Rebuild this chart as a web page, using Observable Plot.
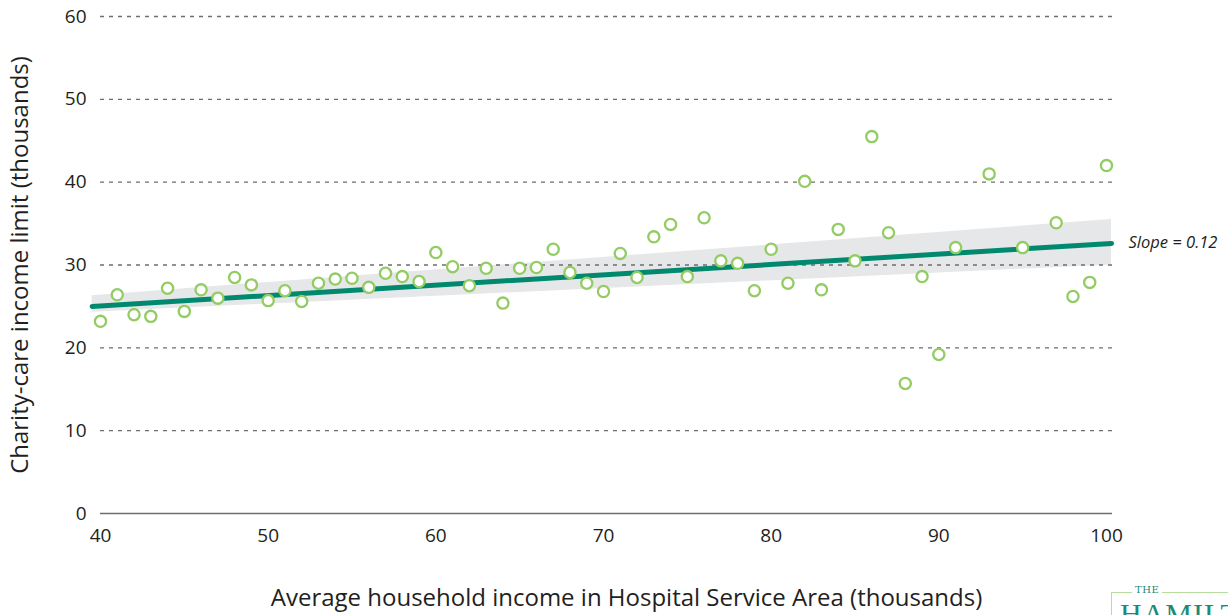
<!DOCTYPE html>
<html>
<head>
<meta charset="utf-8">
<script src="https://cdn.jsdelivr.net/npm/d3@7"></script>
<script src="https://cdn.jsdelivr.net/npm/@observablehq/plot@0.6"></script>
<style>
  html, body { margin: 0; padding: 0; background: #fff; overflow: hidden; width: 1228px; height: 615px; }
  #wrap { position: relative; width: 1228px; height: 615px; overflow: hidden; }
  #logo { position: absolute; left: 1111px; top: 592px; width: 200px; height: 60px;
          border-left: 1.5px solid #b9dc9e; border-top: 1.5px solid #b9dc9e; }
  #logo .the { position: absolute; left: 20px; top: -9px; background: #fff; padding: 0 3px;
          font-family: "DejaVu Serif", serif; font-size: 10px; color: #1a8a7a; letter-spacing: 0.5px; }
  #logo .ham { position: absolute; left: 8px; top: 4px; font-family: "Liberation Serif", serif;
          font-size: 30px; color: #1a8a7a; letter-spacing: 1px; }
</style>
</head>
<body>
<div id="wrap">
  <div id="chart"></div>
  <div id="logo"><span class="the">THE</span><span class="ham">HAMILTON</span></div>
</div>
<script>
// Average household income in HSA (thousands)
const income = [40,41,42,43,44,45,46,47,48,49,50,51,52,53,54,55,56,57,58,59,60,61,62,63,64,65,66,67,68,69,70,71,72,73,74,75,76,77,78,79,80,81,82,83,84,85,86,87,88,89,90,91,93,95,97,98,99,100];
// Charity-care income limit (thousands)
const limit = [23.2,26.4,24.0,23.8,27.2,24.4,27.0,26.0,28.5,27.6,25.7,26.9,25.6,27.8,28.3,28.4,27.3,29.0,28.6,28.0,31.5,29.8,27.5,29.6,25.4,29.6,29.7,31.9,29.1,27.8,26.8,31.4,28.5,33.4,34.9,28.6,35.7,30.5,30.2,26.9,31.9,27.8,40.1,27.0,34.3,30.5,45.5,33.9,15.7,28.6,19.2,32.1,41.0,32.1,35.1,26.2,27.9,42.0];

// Fitted line and its shaded band
const fitX = [39.5, 100.3];
const fitY = [25.0, 32.6];
const bandLow = [24.3, 30.0];
const bandHigh = [26.3, 35.5];

const yTicks = [0, 10, 20, 30, 40, 50, 60];
const xTicks = [40, 50, 60, 70, 80, 90, 100];
const slopeLabel = "Slope = 0.12";
const xLabel = "Average household income in Hospital Service Area (thousands)";
const yLabel = "Charity-care income limit (thousands)";

const points = income.map((x, i) => ({x, y: limit[i]}));
const fit = fitX.map((x, i) => ({x, y: fitY[i], lo: bandLow[i], hi: bandHigh[i]}));

const font = "'Open Sans', 'Noto Sans', sans-serif";

const chart = Plot.plot({
  width: 1228,
  height: 615,
  marginLeft: 100,
  marginRight: 122,
  marginTop: 16,
  marginBottom: 102,
  style: {fontFamily: font, background: "#fff", color: "#231f20", overflow: "visible"},
  x: {domain: [40, 100], ticks: xTicks},
  y: {domain: [0, 60], ticks: yTicks},
  marks: [
    Plot.areaY(fit, {x: "x", y1: "lo", y2: "hi", fill: "#e6e7e8"}),
    Plot.ruleY(yTicks.filter(d => d > 0), {stroke: "#6d6e71", strokeWidth: 1.3, strokeDasharray: "4,5", insetRight: -6}),
    Plot.ruleY([0], {stroke: "#6d6e71", strokeWidth: 1.5, insetRight: -6}),
    Plot.line(fit, {x: "x", y: "y", stroke: "#00896f", strokeWidth: 5, strokeLinecap: "round"}),
    Plot.dot(points, {x: "x", y: "y", r: 5.6, stroke: "#92cc63", strokeWidth: 2.3, fill: "white"}),
    Plot.text([fit[fit.length - 1]], {x: "x", y: "y", text: () => slopeLabel, textAnchor: "start", dx: 17, dy: -1, fontSize: 16.5, fontStyle: "italic", fill: "#231f20"}),
    Plot.axisX({ticks: xTicks, tickSize: 0, tickPadding: 15, fontSize: 19, label: null}),
    Plot.axisY({ticks: yTicks, tickSize: 0, tickPadding: 14, fontSize: 19, label: null}),
    Plot.text([xLabel], {frameAnchor: "bottom", dy: 85, dx: 23, fontSize: 24, fill: "#231f20", lineAnchor: "middle", textAnchor: "middle"}),
    Plot.text([yLabel], {frameAnchor: "left", dx: -80, rotate: -90, fontSize: 24, fill: "#231f20", lineAnchor: "middle", textAnchor: "middle"})
  ]
});
document.getElementById("chart").appendChild(chart);
</script>
</body>
</html>
